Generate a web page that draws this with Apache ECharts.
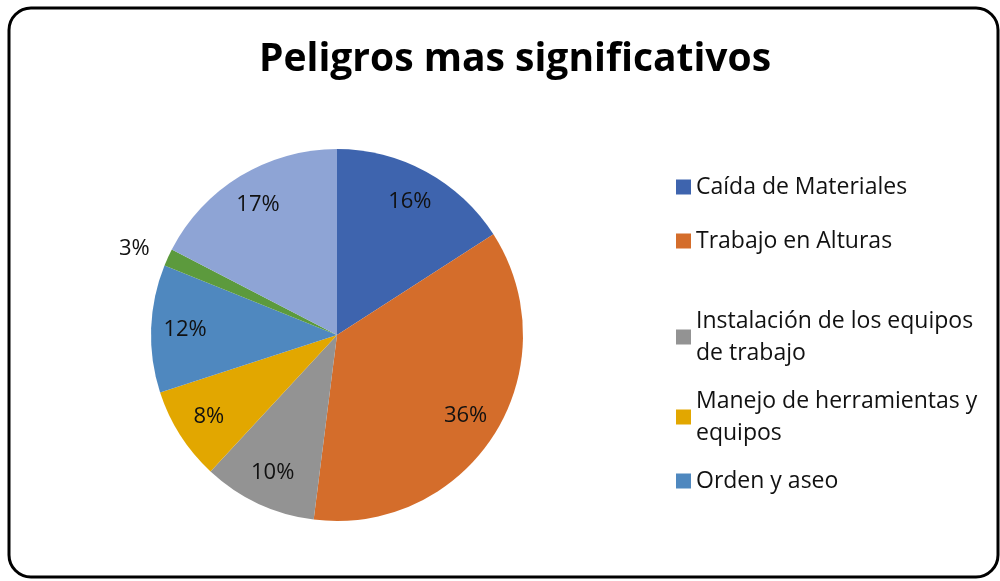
<!DOCTYPE html>
<html>
<head>
<meta charset="utf-8">
<script src="https://cdn.jsdelivr.net/npm/echarts@6/dist/echarts.min.js"></script>
<style>
  html, body { margin: 0; padding: 0; background: #fff; }
  #chart { width: 1000px; height: 581px; }
</style>
</head>
<body>
<div id="chart"></div>
<script>
  // categorias y valores
  const categories = [
    'Caída de Materiales',
    'Trabajo en Alturas',
    'Instalación de los equipos de trabajo',
    'Manejo de herramientas y equipos',
    'Orden y aseo',
    'Otros',
    'Otros peligros'
  ]
  const values = [15.9, 36.1, 9.9, 8.1, 11.1, 1.5, 17.4]
  const percentLabels = ['16%', '36%', '10%', '8%', '12%', '3%', '17%']
  const colors = ['#3E64AE', '#D46D2B', '#939393', '#E2A700', '#4F88BF', '#5C9A3D', '#8EA4D5']
  // la leyenda solo muestra las primeras 5
  const legendNames = categories.slice(0, 5)
  const legendText = {
    'Instalación de los equipos de trabajo': 'Instalación de los equipos\nde trabajo',
    'Manejo de herramientas y equipos': 'Manejo de herramientas y\nequipos'
  }
  const legendTops = [171, 225, 305, 385, 465]

  const font = 'Open Sans'
  const chart = echarts.init(document.getElementById('chart'))

  const legends = legendNames.map((name, i) => ({
    data: [name],
    orient: 'vertical',
    left: 676,
    top: legendTops[i],
    padding: 0,
    itemWidth: 15,
    itemHeight: 15,
    itemGap: 0,
    icon: 'rect',
    selectedMode: false,
    formatter: n => legendText[n] || n,
    textStyle: { fontFamily: font, fontSize: 23, color: '#111', lineHeight: 32, padding: [0, 0, 0, 0] }
  }))

  const option = {
    animation: false,
    color: colors,
    title: {
      text: 'Peligros mas significativos',
      left: 510,
      textAlign: 'center',
      top: 35,
      textStyle: { fontFamily: font, fontWeight: 'bold', fontSize: 39, color: '#000' }
    },
    graphic: [{
      type: 'rect',
      shape: { x: 9, y: 8, width: 989, height: 569, r: 22 },
      style: { fill: 'none', stroke: '#000', lineWidth: 3 },
      silent: true
    }],
    legend: legends,
    series: [
      {
        type: 'pie',
        center: [337, 335],
        radius: [0, 186],
        startAngle: 90,
        clockwise: true,
        label: { show: false },
        labelLine: { show: false },
        data: categories.map((c, i) => ({ name: c, value: values[i] }))
      },
      {
        // solo para ubicar las etiquetas a 80% del radio
        type: 'pie',
        center: [337, 335],
        radius: [112, 186],
        startAngle: 90,
        clockwise: true,
        silent: true,
        itemStyle: { color: 'rgba(0,0,0,0)' },
        label: {
          show: true,
          position: 'inside',
          fontFamily: font,
          fontSize: 22,
          color: '#111',
          formatter: p => percentLabels[p.dataIndex]
        },
        labelLine: { show: false },
        data: categories.map((c, i) => {
          const d = { name: c, value: values[i] }
          if (i === 5) {
            d.label = { position: 'outside', distanceToLabelLine: 0 }
            d.labelLine = { show: false, length: 20, length2: 0 }
          }
          return d
        })
      }
    ]
  }
  chart.setOption(option)
</script>
</body>
</html>
